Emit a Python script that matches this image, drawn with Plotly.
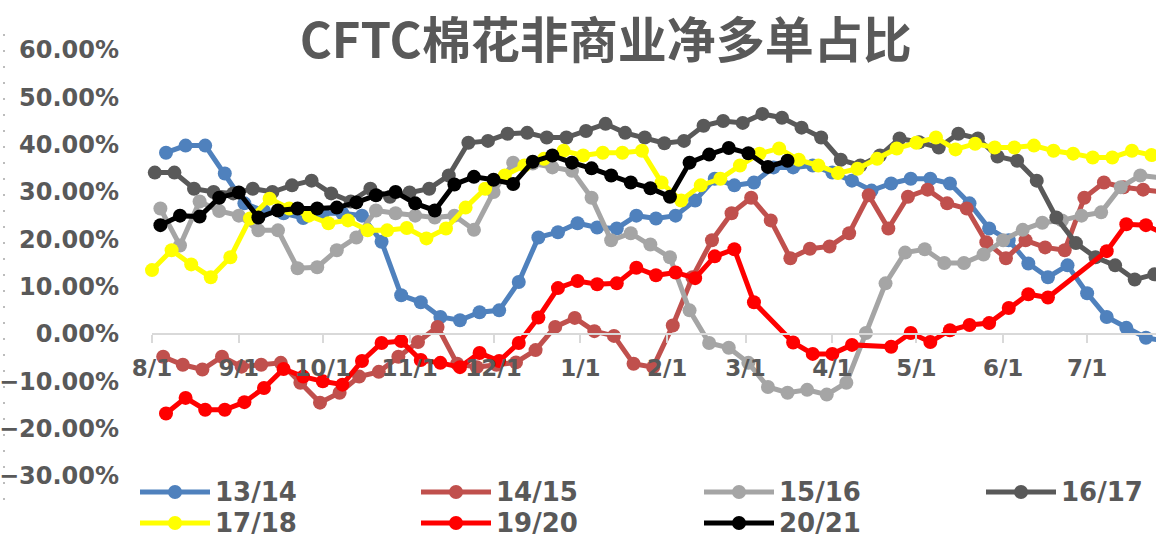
import pandas as pd
import plotly.graph_objects as go

# CFTC cotton: non-commercial net long share (%), weekly reports, one list per season
seasons = ['13/14', '14/15', '15/16', '16/17', '17/18', '19/20', '20/21']
first_report = ['2013-08-06', '2014-08-05', '2015-08-04', '2016-08-02',
                '2017-08-01', '2019-08-06', '2020-08-04']
colors = ['#4F81BD', '#C0504D', '#A5A5A5', '#595959', '#FFFF00', '#FF0000', '#000000']

s1314 = [38.3, 39.8, 39.8, 33.9, 27.6, 26.0, 25.5, 24.5, 25.5, 25.5, 25.0, 19.5, 8.2,
         6.7, 3.6, 2.9, 4.6, 5.0, 11.0, 20.4, 21.5, 23.4, 22.5, 22.3, 25.0, 24.4,
         25.0, 28.2, 32.8, 31.4, 32.0, 35.2, 35.2, 35.6, 34.1, 32.4, 30.3, 31.8, 32.8,
         32.8, 31.8, 27.6, 22.3, 19.8, 14.9, 12.0, 14.5, 8.6, 3.6, 1.3, -0.8, -1.5]
s1415 = [-4.8, -6.5, -7.5, -4.8, -6.9, -6.5, -6.1, -10.3, -14.5, -12.4, -9.0, -8.0, -4.8,
         -1.7, 1.5, -6.3, -7.0, -6.5, -6.0, -3.4, 1.5, 3.4, 0.6, -0.4, -6.3, -7.0,
         1.8, 12.0, 19.8, 25.5, 28.8, 24.0, 16.0, 18.0, 18.5, 21.3, 29.3, 22.3, 29.0,
         30.5, 27.6, 26.5, 19.4, 16.0, 19.8, 18.3, 17.7, 28.8, 32.0, 31.0, 30.5, 30.0]
s1516 = [26.5, 18.7, 28.0, 26.0, 25.0, 21.9, 21.9, 13.9, 14.1, 17.7, 20.4, 26.1, 25.5,
         25.0, 24.6, 25.0, 22.0, 30.0, 36.2, 36.0, 35.2, 34.5, 28.8, 19.8, 21.3, 18.9,
         16.2, 5.0, -1.9, -2.9, -6.1, -11.2, -12.4, -11.8, -12.8, -10.3, 0.2, 10.7, 17.2,
         17.9, 15.0, 15.0, 16.8, 19.8, 22.0, 23.5, 24.0, 25.0, 25.7, 31.0, 33.5, 33.0]
s1617 = [34.1, 34.1, 30.7, 30.0, 29.7, 30.7, 30.0, 31.4, 32.4, 29.7, 28.0, 30.7, 29.0,
         29.9, 30.7, 33.5, 40.4, 40.8, 42.3, 42.5, 41.5, 41.5, 42.9, 44.4, 42.5, 41.5,
         40.3, 40.8, 44.0, 45.0, 44.6, 46.5, 45.7, 43.6, 41.5, 36.8, 35.6, 37.7, 41.3,
         40.5, 39.4, 42.3, 41.3, 37.5, 36.6, 32.4, 24.6, 19.2, 16.2, 14.5, 11.5, 12.6]
s1718 = [13.5, 17.7, 14.7, 12.0, 16.2, 24.4, 28.6, 26.5, 25.0, 23.4, 24.0, 21.9, 21.9,
         22.4, 20.2, 22.3, 26.7, 30.7, 33.5, 35.6, 37.0, 38.7, 37.7, 38.3, 38.3, 38.7,
         32.0, 28.2, 31.4, 32.8, 35.6, 38.1, 39.2, 36.8, 35.6, 34.0, 34.9, 37.0, 39.2,
         40.4, 41.5, 39.0, 40.2, 39.4, 39.4, 39.8, 38.7, 38.1, 37.3, 37.3, 38.7, 37.8]
s1920 = [-16.8, -13.5, -16.0, -16.0, -14.4, -11.4, -7.4, -9.0, -10.0, -10.7, -5.7, -1.9, -1.5,
         -5.5, -6.1, -7.0, -4.0, -5.7, -1.9, 3.5, 9.7, 11.2, 10.5, 10.7, 14.0, 12.4,
         13.0, 11.8, 16.4, 17.9, 6.7, None, -1.8, -4.2, -4.2, -2.3, None, -2.7, 0.2,
         -1.7, 0.8, 1.9, 2.3, 5.5, 8.4, 7.7, None, None, 17.5, 23.2, 23.0, 21.0]
s2021 = [23.0, 25.0, 24.8, 28.8, 29.9, 24.6, 26.1, 26.5, 26.5, 26.7, 27.8, 29.3, 30.0,
         27.6, 26.1, 31.6, 33.2, 32.6, 31.7, 36.4, 37.7, 36.2, 35.0, 33.5, 32.0, 30.8,
         29.0, 36.2, 37.9, 39.3, 38.2, 35.3, 36.6]
values = [s1314, s1415, s1516, s1617, s1718, s1920, s2021]

month_labels = ['8/1', '9/1', '10/1', '11/1', '12/1', '1/1', '2/1', '3/1', '4/1', '5/1', '6/1', '7/1']

W, H = 1156, 538
L, R, T, B = 152, 0, 50, 62
pw, ph = W - L - R, H - T - B

# every season is laid on one common Aug -> Jul axis
base = pd.Timestamp('2013-08-01')
month_ticks = pd.date_range(base, periods=12, freq='MS')

fig = go.Figure()
for name, start, vals, color in zip(seasons, first_report, values, colors):
    d = pd.date_range(start, periods=len(vals), freq='7D')
    aug1 = pd.Timestamp(year=d[0].year, month=8, day=1)
    x = base + (d - aug1)
    fig.add_trace(go.Scatter(
        x=x, y=vals, name=name, mode='lines+markers',
        line=dict(color=color, width=5),
        marker=dict(size=14, color=color),
        connectgaps=True, cliponaxis=False, showlegend=False,
    ))

grey = '#595959'


def px_x(p):
    return (p - L) / pw


def px_y(p):
    return (H - B - p) / ph


# legend drawn by hand: long Excel-style line keys, 4 columns x 2 rows
legend_cols = [140, 421, 704, 986]
legend_rows = [492, 523]
for i, (name, color) in enumerate(zip(seasons, colors)):
    x0 = legend_cols[i % 4]
    yy = px_y(legend_rows[i // 4])
    fig.add_shape(type='line', xref='paper', yref='paper',
                  x0=px_x(x0), x1=px_x(x0 + 70), y0=yy, y1=yy,
                  line=dict(color=color, width=5))
    fig.add_shape(type='circle', xref='paper', yref='paper',
                  xsizemode='pixel', ysizemode='pixel',
                  xanchor=px_x(x0 + 35), yanchor=yy, x0=-7, x1=7, y0=-7, y1=7,
                  fillcolor=color, line=dict(color=color, width=0))
    fig.add_annotation(text=name, xref='paper', yref='paper',
                       x=px_x(x0 + 73), y=yy, xanchor='left', yanchor='middle',
                       showarrow=False,
                       font=dict(family='DejaVu Sans', size=26, color=grey, weight='bold'))

fig.update_layout(
    width=W, height=H,
    margin=dict(l=L, r=R, t=T, b=B, autoexpand=False),
    plot_bgcolor='white', paper_bgcolor='white',
    font=dict(family='DejaVu Sans', color=grey),
    title=dict(text='CFTC棉花非商业净多单占比', x=0.524, xanchor='center', xref='container',
               y=0.925, yanchor='middle', yref='container',
               font=dict(family='Noto Sans CJK SC', size=49, color=grey, weight='bold')),
    showlegend=False,
)
fig.update_xaxes(
    type='date', range=[base, base + pd.Timedelta(days=358.6)],
    tickvals=month_ticks, ticktext=month_labels,
    showgrid=False, zeroline=False,
    showline=True, linecolor='#D9D9D9', linewidth=2,
    ticks='outside', ticklen=8, tickwidth=2, tickcolor='#D9D9D9',
    anchor='free', position=1 / 3,
    ticklabelstandoff=5,
    tickfont=dict(family='DejaVu Sans', size=23, color=grey, weight='bold'),
)
fig.update_yaxes(
    range=[-30, 60], dtick=10, tickformat='.2f', ticksuffix='%',
    showgrid=False, zeroline=False, showline=False,
    ticklabelstandoff=32,
    tickfont=dict(family='DejaVu Sans', size=24, color=grey, weight='bold'),
)

# dotted frame edge on the far left
fig.add_shape(type='line', xref='paper', yref='paper',
              x0=px_x(4), x1=px_x(4), y0=px_y(500), y1=px_y(30),
              line=dict(color='#A6A6A6', width=1.5, dash='2px,14px'))

# drop the browser's default body margin so the figure sits at the page corner
fig.write_html('out.html', config={'displayModeBar': False},
               post_script="document.body.style.margin='0';document.body.style.overflow='hidden';")
